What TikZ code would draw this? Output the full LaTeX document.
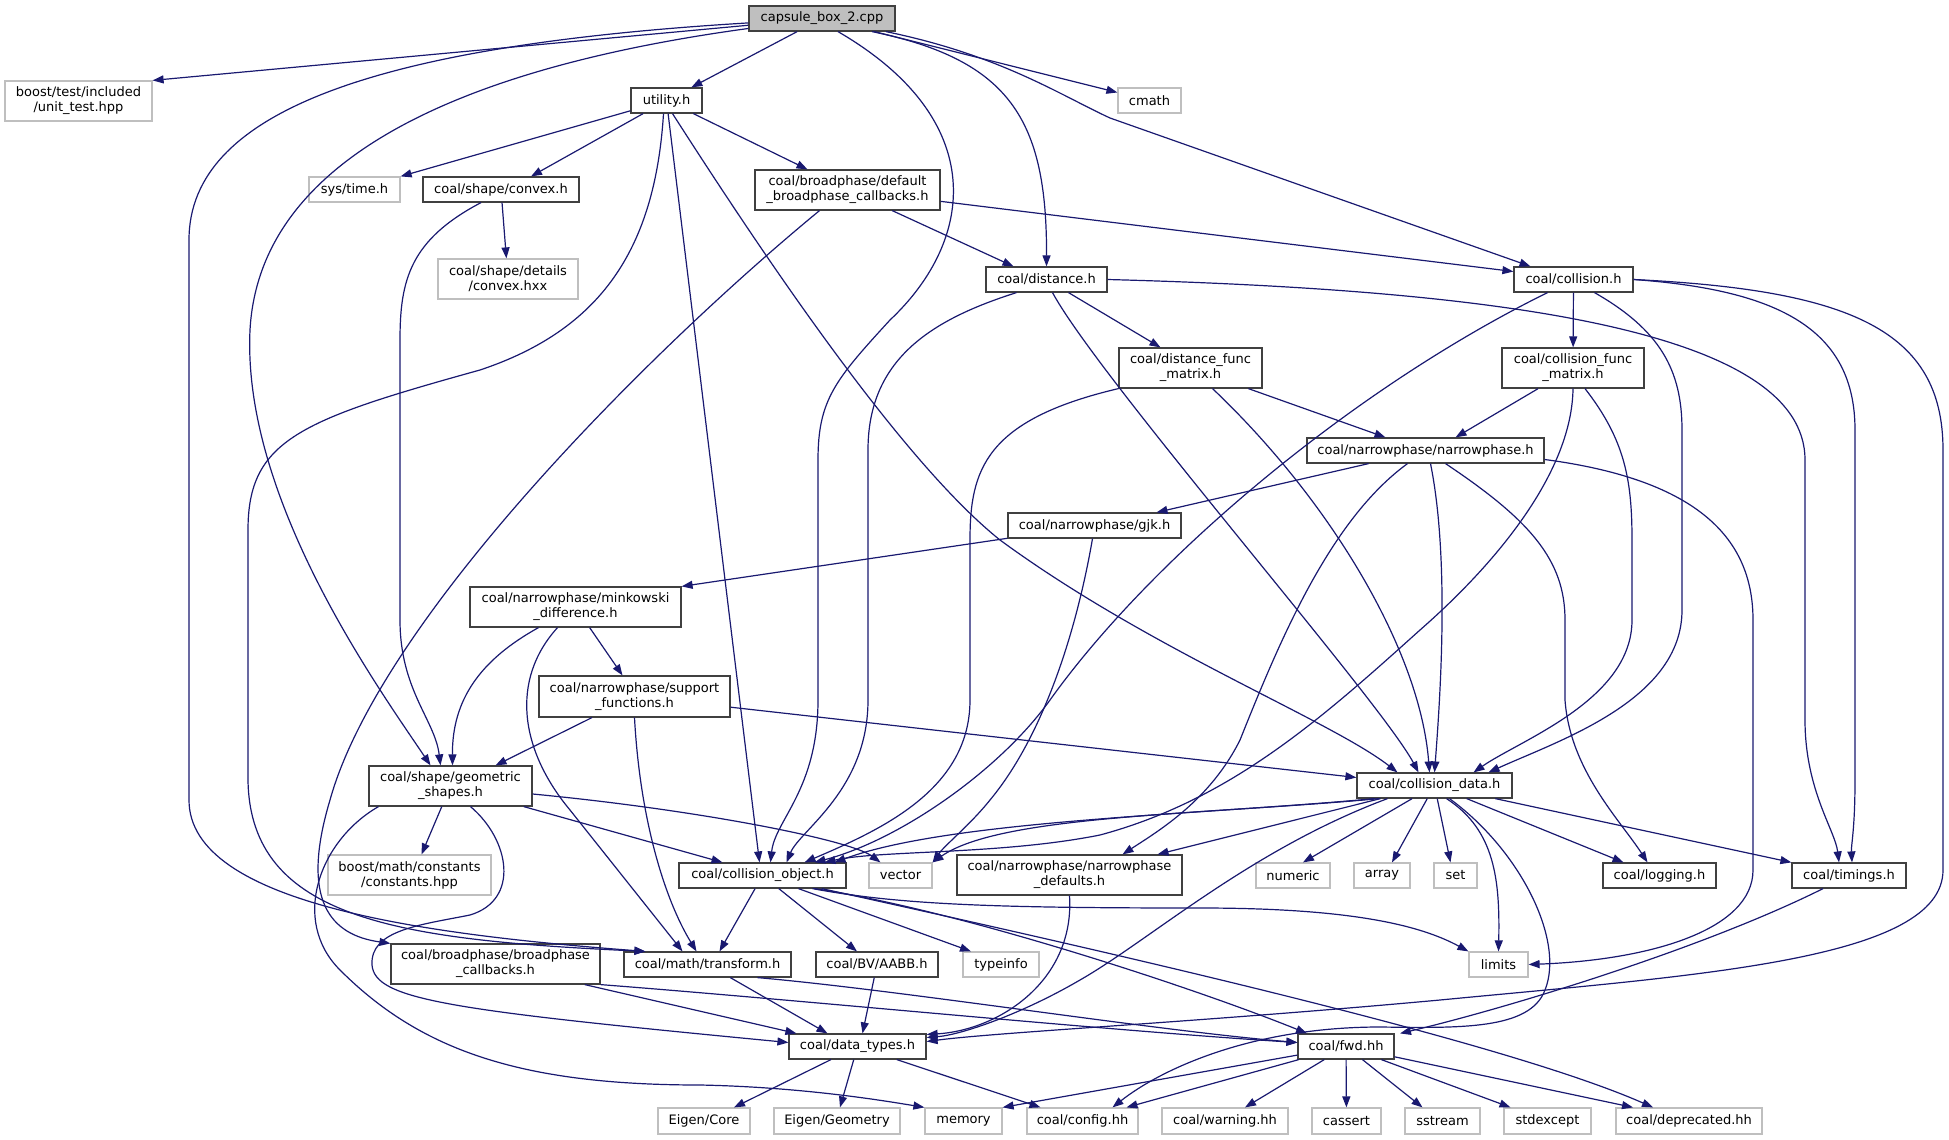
\documentclass[tikz,border=0pt]{standalone}
\usepackage{fontspec}
\setmainfont{DejaVu Sans}
\usetikzlibrary{arrows.meta}
\definecolor{edgeblue}{HTML}{191970}
\definecolor{extgray}{HTML}{BFBFBF}
\tikzset{>={Triangle[length=11pt,width=8pt]}, % filled arrow heads
hdr/.style={draw=black!75, line width=1.2pt, fill=white, font=\fontsize{13}{15}\selectfont, inner xsep=4pt, inner ysep=0pt, minimum height=25pt, align=center}, % a project header
sys/.style={hdr, draw=extgray}, % a header from outside the project
root/.style={hdr, fill=extgray}, % the file the graph is about
dep/.style={->, draw=edgeblue, line width=1.2pt}, % an include
}
\begin{document}
\begin{tikzpicture}[x=1pt,y=-1pt]
    \useasboundingbox (0,0) rectangle (1949,1140);
    \node[root, minimum width=146pt] (cpp) at (822,18.5) {capsule\_box\_2.cpp};
    \node[sys, minimum width=147pt, minimum height=40pt] (unittest) at (78.5,101) {boost/test/included\\/unit\_test.hpp};
    \node[hdr, minimum width=71pt] (utility) at (666.5,100.5) {utility.h};
    \node[sys, minimum width=63pt] (cmath) at (1149.5,100.5) {cmath};
    \node[sys, minimum width=91pt] (systime) at (354.5,189.5) {sys/time.h};
    \node[hdr, minimum width=156pt] (convex) at (501,189.5) {coal/shape/convex.h};
    \node[hdr, minimum width=185pt, minimum height=40pt] (defcb) at (847.5,190) {coal/broadphase/default\\\_broadphase\_callbacks.h};
    \node[sys, minimum width=140pt, minimum height=40pt] (convexhxx) at (508,279) {coal/shape/details\\/convex.hxx};
    \node[hdr, minimum width=121pt] (distance) at (1046.5,279.5) {coal/distance.h};
    \node[hdr, minimum width=119pt] (collision) at (1573.5,279.5) {coal/collision.h};
    \node[hdr, minimum width=143pt, minimum height=40pt] (distfm) at (1190.5,368) {coal/distance\_func\\\_matrix.h};
    \node[hdr, minimum width=142pt, minimum height=40pt] (collfm) at (1573,368) {coal/collision\_func\\\_matrix.h};
    \node[hdr, minimum width=237pt] (narrow) at (1425.5,450.5) {coal/narrowphase/narrowphase.h};
    \node[hdr, minimum width=173pt] (gjk) at (1094.5,525.5) {coal/narrowphase/gjk.h};
    \node[hdr, minimum width=211pt, minimum height=40pt] (minkowski) at (575.5,607) {coal/narrowphase/minkowski\\\_difference.h};
    \node[hdr, minimum width=191pt, minimum height=41pt] (support) at (634.5,696.5) {coal/narrowphase/support\\\_functions.h};
    \node[hdr, minimum width=163pt, minimum height=40pt] (geometric) at (450.5,786) {coal/shape/geometric\\\_shapes.h};
    \node[hdr, minimum width=155pt] (colldata) at (1434.5,785.5) {coal/collision\_data.h};
    \node[sys, minimum width=163pt, minimum height=40pt] (constants) at (409.5,875) {boost/math/constants\\/constants.hpp};
    \node[hdr, minimum width=167pt] (collobj) at (762.5,875.5) {coal/collision\_object.h};
    \node[sys, minimum width=63pt] (vector) at (900.5,875.5) {vector};
    \node[hdr, minimum width=225pt, minimum height=40pt] (npdefaults) at (1069.5,875) {coal/narrowphase/narrowphase\\\_defaults.h};
    \node[sys, minimum width=74pt] (numeric) at (1293,875.5) {numeric};
    \node[sys, minimum width=56pt] (array) at (1382,875.5) {array};
    \node[sys, minimum width=43pt] (set) at (1455.5,875.5) {set};
    \node[hdr, minimum width=113pt] (logging) at (1659.5,875.5) {coal/logging.h};
    \node[hdr, minimum width=114pt] (timings) at (1849,875.5) {coal/timings.h};
    \node[hdr, minimum width=209pt, minimum height=40pt] (bpcb) at (495.5,964) {coal/broadphase/broadphase\\\_callbacks.h};
    \node[hdr, minimum width=167pt] (transform) at (707.5,964.5) {coal/math/transform.h};
    \node[hdr, minimum width=122pt] (aabb) at (877,964.5) {coal/BV/AABB.h};
    \node[sys, minimum width=76pt] (typeinfo) at (1001,964.5) {typeinfo};
    \node[sys, minimum width=59pt] (limits) at (1498.5,964.5) {limits};
    \node[hdr, minimum width=137pt] (datatypes) at (857.5,1046.5) {coal/data\_types.h};
    \node[hdr, minimum width=96pt] (fwd) at (1346,1046.5) {coal/fwd.hh};
    \node[sys, minimum width=92pt, minimum height=26pt] (eigencore) at (704,1121) {Eigen/Core};
    \node[sys, minimum width=126pt, minimum height=26pt] (eigengeom) at (837,1121) {Eigen/Geometry};
    \node[sys, minimum width=77pt, minimum height=26pt] (memory) at (963.5,1121) {memory};
    \node[sys, minimum width=111pt, minimum height=26pt] (config) at (1082.5,1121) {coal/config.hh};
    \node[sys, minimum width=126pt, minimum height=26pt] (warning) at (1225,1121) {coal/warning.hh};
    \node[sys, minimum width=69pt, minimum height=26pt] (cassert) at (1346.5,1121) {cassert};
    \node[sys, minimum width=75pt, minimum height=26pt] (sstream) at (1442.5,1121) {sstream};
    \node[sys, minimum width=87pt, minimum height=26pt] (stdexcept) at (1547.5,1121) {stdexcept};
    \node[sys, minimum width=146pt, minimum height=26pt] (deprecated) at (1689,1121) {coal/deprecated.hh};

    % capsule_box_2.cpp
    \draw[dep] (cpp) -- (unittest.north east);
    \draw[dep] (cpp) .. controls (380,45) and (189,110) .. (189,240) -- (189,800) .. controls (189,905) and (430,935) .. ([xshift=22pt]transform.north west);
    \draw[dep] (cpp) .. controls (480,65) and (260,150) .. (250,330) .. controls (242,500) and (380,690) .. ([xshift=-20pt]geometric.north);
    \draw[dep] (cpp) -- (utility);
    \draw[dep] (cpp) -- (cmath);
    \draw[dep] ([xshift=50pt]cpp.south) .. controls (1010,60) and (1047,120) .. (distance.north);
    \draw[dep] (cpp) .. controls (1000,55) and (1060,95) .. (1110,118) -- ([xshift=-43pt]collision.north);
    \draw[dep] ([xshift=16pt]cpp.south) .. controls (990,120) and (975,240) .. (890,320) .. controls (835,380) and (818,400) .. (818,460) -- (818,700) .. controls (818,790) and (775,820) .. ([xshift=8pt]collobj.north);

    % utility.h
    \draw[dep] (utility) -- (systime.north east);
    \draw[dep] (utility) -- ([xshift=30pt]convex.north);
    \draw[dep] (utility) -- ([xshift=-40pt]defcb.north);
    \draw[dep] (utility) -- ([xshift=-3pt]collobj.north);
    \draw[dep] ([xshift=6pt]utility.south) .. controls (760,250) and (900,460) .. (1000,540) .. controls (1150,650) and (1330,720) .. ([xshift=-37pt]colldata.north);
    \draw[dep] ([xshift=-3pt]utility.south) .. controls (655,250) and (600,330) .. (480,370) .. controls (300,420) and (248,440) .. (248,530) -- (248,780) .. controls (250,920) and (400,940) .. ([xshift=22pt]transform.north west);

    % convex.h and default_broadphase_callbacks.h
    \draw[dep] (convex) -- (convexhxx);
    \draw[dep] ([xshift=-20pt]convex.south) .. controls (410,240) and (400,280) .. (400,340) -- (400,620) .. controls (400,690) and (435,720) .. ([xshift=-10pt]geometric.north);
    \draw[dep] (defcb) -- ([xshift=-33pt]distance.north);
    \draw[dep] (defcb) -- ([yshift=8pt]collision.west);
    \draw[dep] ([xshift=-28pt]defcb.south) .. controls (650,350) and (380,620) .. (330,800) .. controls (300,900) and (330,935) .. (bpcb.north west);

    % distance.h
    \draw[dep] ([xshift=-30pt]distance.south) .. controls (930,320) and (868,360) .. (868,450) -- (868,700) .. controls (868,790) and (800,830) .. ([xshift=24pt]collobj.north);
    \draw[dep] (distance) -- ([xshift=-30pt]distfm.north);
    \draw[dep] ([xshift=6pt]distance.south) .. controls (1100,380) and (1380,700) .. ([xshift=-16pt]colldata.north);
    \draw[dep] (distance.east) .. controls (1500,290) and (1805,330) .. (1805,460) -- (1805,720) .. controls (1805,790) and (1835,830) .. ([xshift=-10pt]timings.north);

    % collision.h
    \draw[dep] ([xshift=-26pt]collision.south) .. controls (1350,390) and (1150,560) .. (1050,700) .. controls (1000,770) and (900,840) .. ([xshift=52pt]collobj.north);
    \draw[dep] (collision) -- (collfm);
    \draw[dep] ([xshift=21pt]collision.south) .. controls (1660,330) and (1682,370) .. (1682,430) -- (1682,610) .. controls (1682,700) and (1560,740) .. ([xshift=54pt]colldata.north);
    \draw[dep] (collision.east) .. controls (1780,290) and (1855,330) .. (1855,430) -- (1855,780) .. controls (1855,830) and (1851,845) .. ([xshift=3pt]timings.north);
    \draw[dep] (collision.east) .. controls (1850,290) and (1943,330) .. (1943,450) -- (1943,870) .. controls (1943,960) and (1700,975) .. (1440,1000) .. controls (1200,1022) and (1000,1032) .. ([yshift=5pt]datatypes.east);

    % the func_matrix headers
    \draw[dep] (distfm.south west) .. controls (985,420) and (970,470) .. (970,540) -- (970,700) .. controls (970,790) and (880,830) .. ([xshift=42pt]collobj.north);
    \draw[dep] (distfm) -- ([xshift=-40pt]narrow.north);
    \draw[dep] ([xshift=22pt]distfm.south) .. controls (1330,500) and (1420,650) .. ([xshift=-5pt]colldata.north);
    \draw[dep] (collfm) -- ([xshift=30pt]narrow.north);
    \draw[dep] (collfm.south) .. controls (1572,470) and (1500,560) .. (1420,630) .. controls (1320,720) and (1230,800) .. (1100,835) .. controls (1000,855) and (880,850) .. ([xshift=62pt]collobj.north);
    \draw[dep] ([xshift=12pt]collfm.south) .. controls (1625,440) and (1632,480) .. (1632,540) -- (1632,620) .. controls (1632,700) and (1520,740) .. ([xshift=39pt]colldata.north);

    % narrowphase.h, gjk.h, minkowski_difference.h, support_functions.h
    \draw[dep] (narrow) -- ([xshift=62pt]gjk.north);
    \draw[dep] ([xshift=-18pt]narrow.south) .. controls (1330,520) and (1280,640) .. (1240,740) .. controls (1210,800) and (1160,830) .. ([xshift=53pt]npdefaults.north);
    \draw[dep] ([xshift=5pt]narrow.south) .. controls (1450,560) and (1440,700) .. (colldata.north);
    \draw[dep] ([xshift=20pt]narrow.south) .. controls (1530,520) and (1565,560) .. (1565,620) -- (1565,700) .. controls (1570,770) and (1620,820) .. ([xshift=-12pt]logging.north);
    \draw[dep] ([yshift=-9pt]narrow.east) .. controls (1700,480) and (1753,540) .. (1753,620) -- (1753,870) .. controls (1753,930) and (1650,960) .. (limits.east);
    \draw[dep] (gjk) -- (minkowski.north east);
    \draw[dep] ([xshift=-2pt]gjk.south) .. controls (1075,640) and (1040,740) .. (990,800) .. controls (970,825) and (945,845) .. (vector.north east);
    \draw[dep] ([xshift=-37pt]minkowski.south) .. controls (480,660) and (452,700) .. ([xshift=2pt]geometric.north);
    \draw[dep] ([xshift=-18pt]minkowski.south) .. controls (510,680) and (520,750) .. (570,810) -- ([xshift=-25pt]transform.north);
    \draw[dep] (minkowski) -- ([xshift=-12pt]support.north);
    \draw[dep] (support) -- ([xshift=45pt]geometric.north);
    \draw[dep] (support.south) .. controls (640,820) and (665,900) .. ([xshift=-11pt]transform.north);
    \draw[dep] (support) -- ([yshift=8pt]colldata.west);

    % geometric_shapes.h
    \draw[dep] (geometric) -- ([xshift=12pt]constants.north);
    \draw[dep] (geometric) -- ([xshift=-40pt]collobj.north);
    \draw[dep] ([yshift=-8pt]geometric.east) .. controls (700,810) and (850,840) .. ([xshift=-20pt]vector.north);
    \draw[dep] ([xshift=20pt]geometric.south) .. controls (510,840) and (520,900) .. (470,915) .. controls (420,925) and (370,930) .. (372,965) .. controls (375,1000) and (450,1010) .. ([yshift=4pt]datatypes.west);
    \draw[dep] ([xshift=-72pt]geometric.south) .. controls (320,840) and (290,920) .. (340,970) .. controls (420,1050) and (520,1085) .. (700,1085) .. controls (800,1087) and (880,1100) .. (memory.north west);

    % collision_object.h
    \draw[dep] (collobj) -- ([xshift=12pt]transform.north);
    \draw[dep] (collobj) -- ([xshift=-20pt]aabb.north);
    \draw[dep] (collobj) -- ([xshift=-30pt]typeinfo.north);
    \draw[dep] ([xshift=50pt]collobj.south) .. controls (900,905) and (1000,908) .. (1200,908) .. controls (1350,908) and (1420,925) .. (limits.north west);
    \draw[dep] ([xshift=52pt]collobj.south) .. controls (960,910) and (1200,990) .. ([xshift=-39pt]fwd.north);
    \draw[dep] (collobj) .. controls (1100,950) and (1500,1040) .. ([xshift=-36pt]deprecated.north);
    \draw[dep] (npdefaults.south) .. controls (1075,980) and (1000,1030) .. ([yshift=12pt]datatypes.east);

    % collision_data.h
    \draw[dep] ([xshift=-60pt]colldata.south) .. controls (1200,815) and (950,820) .. ([xshift=72pt]collobj.north);
    \draw[dep] ([xshift=-55pt]colldata.south) .. controls (1200,815) and (1000,815) .. (vector.north east);
    \draw[dep] ([xshift=-54pt]colldata.south) -- ([xshift=88pt]npdefaults.north);
    \draw[dep] (colldata) -- ([xshift=10pt]numeric.north);
    \draw[dep] (colldata) -- ([xshift=10pt]array.north);
    \draw[dep] (colldata) -- ([xshift=-5pt]set.north);
    \draw[dep] ([xshift=12pt]colldata.south) .. controls (1495,830) and (1500,880) .. (limits.north);
    \draw[dep] (colldata) -- ([xshift=-36pt]logging.north);
    \draw[dep] (colldata) -- (timings.north west);
    \draw[dep] ([xshift=-47pt]colldata.south) .. controls (1250,850) and (1150,940) .. (1080,980) .. controls (1020,1015) and (960,1035) .. ([yshift=9pt]datatypes.east);
    \draw[dep] ([xshift=15pt]colldata.south) .. controls (1520,850) and (1565,940) .. (1545,990) .. controls (1530,1030) and (1460,1028) .. (1380,1027) .. controls (1250,1027) and (1160,1070) .. ([xshift=30pt]config.north);

    % the lower rows
    \draw[dep] (bpcb) -- ([xshift=8pt]datatypes.north west);
    \draw[dep] (bpcb.south east) .. controls (800,1000) and (1100,1030) .. ([yshift=4pt]fwd.west);
    \draw[dep] (transform) -- ([xshift=-30pt]datatypes.north);
    \draw[dep] ([xshift=50pt]transform.south) .. controls (900,990) and (1150,1030) .. ([yshift=4pt]fwd.west);
    \draw[dep] (aabb) -- ([xshift=5pt]datatypes.north);
    \draw[dep] ([xshift=-26pt]timings.south) .. controls (1700,950) and (1500,1010) .. ([xshift=54pt]fwd.north);
    \draw[dep] (datatypes) -- ([xshift=30pt]eigencore.north);
    \draw[dep] (datatypes) -- ([xshift=3pt]eigengeom.north);
    \draw[dep] (datatypes) -- ([xshift=-42pt]config.north);
    \draw[dep] (fwd) -- (memory.north east);
    \draw[dep] (fwd) -- ([xshift=44pt]config.north);
    \draw[dep] (fwd) -- ([xshift=20pt]warning.north);
    \draw[dep] (fwd) -- (cassert);
    \draw[dep] (fwd) -- ([xshift=-20pt]sstream.north);
    \draw[dep] (fwd) -- ([xshift=-37pt]stdexcept.north);
    \draw[dep] (fwd) -- ([xshift=-56pt]deprecated.north);
  \end{tikzpicture}
\end{document}
